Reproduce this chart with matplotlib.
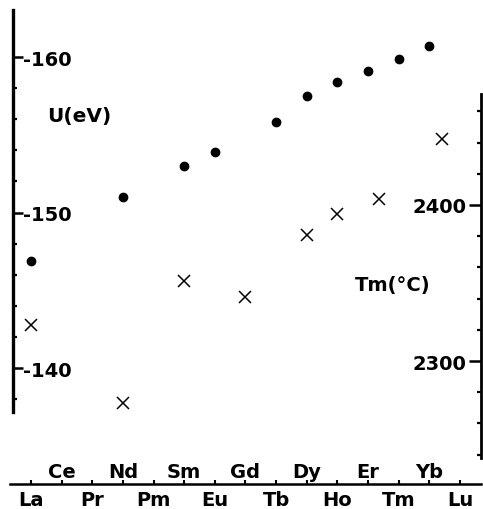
import numpy as np
import matplotlib
matplotlib.use('Agg')
import matplotlib.pyplot as plt
from matplotlib.ticker import FixedLocator, FixedFormatter

# ---- data ----
elements = ['La', 'Ce', 'Pr', 'Nd', 'Pm', 'Sm', 'Eu', 'Gd', 'Tb', 'Dy', 'Ho', 'Er', 'Tm', 'Yb', 'Lu']
u_elements = ['La', 'Nd', 'Sm', 'Eu', 'Tb', 'Dy', 'Ho', 'Er', 'Tm', 'Yb']
u_values = [-146.9, -151.0, -153.0, -153.9, -155.85, -157.5, -158.4, -159.1, -159.9, -160.7]
tm_x = [0, 3, 5, 7, 9, 10, 11.35, 13.4]
tm_values = [2323, 2273, 2351, 2341, 2381, 2394, 2404, 2442]
u_ticks = [-160, -150, -140]
u_ticklabels = ['-160', '-150', '-140']
tm_ticks = [2300, 2400]
tm_ticklabels = ['2300', '2400']

plt.rcParams['font.family'] = ['DejaVu Sans']
plt.rcParams['font.weight'] = 'bold'
plt.rcParams['font.size'] = 14

W, H = 483, 510
fig = plt.figure(figsize=(W / 100, H / 100), dpi=100)
fig.patch.set_facecolor('white')


def fx(px):
    return px / W


def fy(py):
    return 1 - py / H


ax = fig.add_axes([fx(10), fy(485), fx(481) - fx(10), fy(10) - fy(485)])
ax.patch.set_visible(False)
ax2 = ax.twinx()

ax.set_xlim(-0.685, 14.686)
ax.set_ylim(-132.54, -163.09)
ax2.set_ylim(2221.2, 2525.6)

# marks
idx = [elements.index(e) for e in u_elements]
ax.plot(idx, u_values, linestyle='none', marker='o', markersize=6,
        color='black', clip_on=False)
ax2.plot(tm_x, tm_values, linestyle='none', marker='x', markersize=9,
         markeredgewidth=1.1, color='black', clip_on=False)

# spines
for s in ['top', 'right']:
    ax.spines[s].set_visible(False)
for s in ['top', 'left', 'bottom']:
    ax2.spines[s].set_visible(False)
ax.spines['left'].set_position(('data', -0.587))
ax.spines['left'].set_bounds(-163.02, -137.17)
ax.spines['left'].set_linewidth(2.4)
ax.spines['bottom'].set_linewidth(1.8)
ax2.spines['right'].set_bounds(2237.8, 2471.2)
ax2.spines['right'].set_linewidth(2.0)

# left axis ticks
ax.yaxis.set_major_locator(FixedLocator(u_ticks))
ax.yaxis.set_major_formatter(FixedFormatter(u_ticklabels))
u_minor = [v for v in np.arange(-158, -137, 2) if v not in u_ticks]
ax.yaxis.set_minor_locator(FixedLocator(u_minor))
ax.tick_params(axis='y', which='major', direction='in', length=7, width=1.8,
               pad=-7.0, labelsize=14)
ax.tick_params(axis='y', which='minor', direction='in', length=3, width=1.6)
for lbl in ax.get_yticklabels():
    lbl.set_horizontalalignment('left')

# right axis ticks
ax2.yaxis.set_major_locator(FixedLocator(tm_ticks))
ax2.yaxis.set_major_formatter(FixedFormatter(tm_ticklabels))
tm_minor = [v for v in np.arange(2240, 2461, 20) if v not in tm_ticks]
ax2.yaxis.set_minor_locator(FixedLocator(tm_minor))
ax2.tick_params(axis='y', which='major', direction='in', length=9, width=1.8,
                pad=-10.5, labelsize=14)
ax2.tick_params(axis='y', which='minor', direction='in', length=3, width=1.6)
for lbl in ax2.get_yticklabels():
    lbl.set_horizontalalignment('right')

# x axis: alternating element labels
even = list(range(0, len(elements), 2))
odd = list(range(1, len(elements), 2))
ax.set_xticks(even, labels=[elements[i] for i in even])
ax.set_xticks(odd, labels=[elements[i] for i in odd], minor=True)
ax.tick_params(axis='x', which='both', direction='in', length=3, width=1.5)
ax.tick_params(axis='x', which='major', pad=15.0, labelsize=14)
ax.tick_params(axis='x', which='minor', pad=-5, labelsize=14)
for lbl in ax.get_xticklabels(which='both'):
    lbl.set_verticalalignment('baseline')

# axis titles
fig.text(fx(47), fy(117), 'U(eV)', ha='left', va='center', fontsize=14.5,
         fontweight='bold')
fig.text(fx(355), fy(286), 'Tm(\u00b0C)', ha='left', va='center', fontsize=14,
         fontweight='bold')

fig.savefig('out.png', dpi=100, facecolor='white')
